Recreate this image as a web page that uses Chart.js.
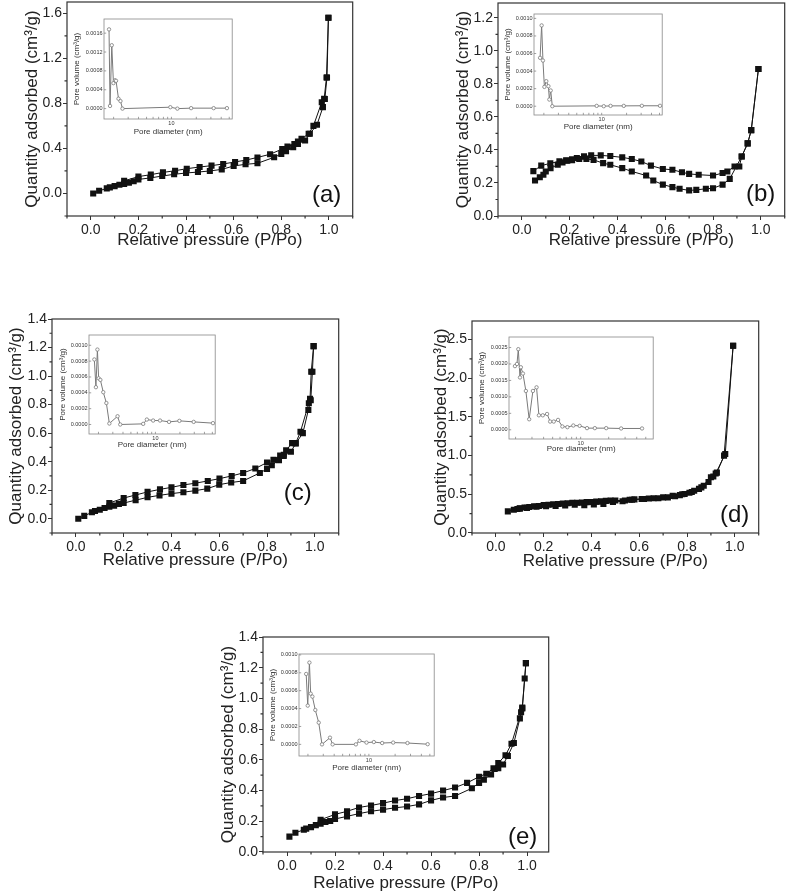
<!DOCTYPE html>
<html>
<head>
<meta charset="utf-8">
<script src="https://cdn.jsdelivr.net/npm/chart.js@4.4.1/dist/chart.umd.min.js"></script>
<style>
  body { margin: 0; background: #fff; overflow: hidden; }
  #page { position: relative; width: 787px; height: 893px; overflow: hidden; }
</style>
</head>
<body>
<div id="page"></div>
<script>
// ---- tick labels ----
const pressureTicks = [0, 0.2, 0.4, 0.6, 0.8, 1.0];
const pressureMinor = [-0.1, 0.1, 0.3, 0.5, 0.7, 0.9, 1.1];
const poreDiamTicks = [2, 3, 4, 5, 6, 7, 8, 9, 10, 20, 30, 40, 50];

const yTicksA = [0, 0.4, 0.8, 1.2, 1.6];
const yMinorA = [-0.2, 0.2, 0.6, 1.0, 1.4];
const yTicksB = [0, 0.2, 0.4, 0.6, 0.8, 1.0, 1.2];
const yMinorB = [0.1, 0.3, 0.5, 0.7, 0.9, 1.1];
const yTicksC = [0, 0.2, 0.4, 0.6, 0.8, 1.0, 1.2, 1.4];
const yMinorC = [-0.1, 0.1, 0.3, 0.5, 0.7, 0.9, 1.1, 1.3];
const yTicksD = [0, 0.5, 1.0, 1.5, 2.0, 2.5];
const yMinorD = [0.25, 0.75, 1.25, 1.75, 2.25];
const yTicksE = [0, 0.2, 0.4, 0.6, 0.8, 1.0, 1.2, 1.4];
const yMinorE = [0.1, 0.3, 0.5, 0.7, 0.9, 1.1, 1.3];

const poreTicksA = [0, 0.0004, 0.0008, 0.0012, 0.0016];
const poreTicksB = [0, 0.0002, 0.0004, 0.0006, 0.0008, 0.0010];
const poreTicksD = [0, 0.0005, 0.0010, 0.0015, 0.0020, 0.0025];

// ---- (a) ----
const aAdsP = [0.01, 0.035, 0.067, 0.08, 0.10, 0.12, 0.14, 0.16, 0.18, 0.20, 0.25, 0.30, 0.35, 0.40, 0.45, 0.50, 0.55, 0.60, 0.65, 0.70, 0.77, 0.80, 0.82, 0.85, 0.87, 0.90, 0.92, 0.95, 0.975, 0.983, 0.992, 0.998];
const aAdsQ = [0.0, 0.024, 0.045, 0.054, 0.065, 0.078, 0.085, 0.095, 0.108, 0.125, 0.138, 0.155, 0.17, 0.182, 0.19, 0.2, 0.214, 0.244, 0.259, 0.268, 0.321, 0.351, 0.375, 0.41, 0.44, 0.47, 0.53, 0.61, 0.767, 0.839, 1.03, 1.56];
const aDesP = [0.998, 0.99, 0.98, 0.97, 0.935, 0.915, 0.885, 0.87, 0.855, 0.826, 0.804, 0.753, 0.70, 0.653, 0.606, 0.556, 0.507, 0.457, 0.403, 0.354, 0.303, 0.252, 0.20, 0.14];
const aDesQ = [1.56, 1.03, 0.84, 0.81, 0.60, 0.53, 0.485, 0.46, 0.44, 0.416, 0.395, 0.348, 0.32, 0.297, 0.28, 0.262, 0.247, 0.235, 0.22, 0.202, 0.187, 0.167, 0.15, 0.112];
const aPoreD = [1.76, 1.81, 1.90, 1.99, 2.08, 2.14, 2.29, 2.42, 2.56, 9.7, 11.8, 17.3, 32.4, 46.9];
const aPoreV = [0.00168, 0.000057, 0.001344, 0.00054, 0.0006, 0.00059, 0.00021, 0.00016, 0.0, 0.00003, 0.0, 0.00001, 0.00001, 0.00001];

// ---- (b) ----
const bAdsP = [0.055, 0.075, 0.09, 0.10, 0.12, 0.15, 0.17, 0.19, 0.21, 0.24, 0.27, 0.30, 0.34, 0.37, 0.42, 0.46, 0.52, 0.55, 0.59, 0.63, 0.66, 0.70, 0.73, 0.77, 0.80, 0.84, 0.87, 0.92, 0.945, 0.96, 0.99];
const bAdsQ = [0.215, 0.235, 0.25, 0.27, 0.29, 0.31, 0.325, 0.335, 0.338, 0.345, 0.345, 0.34, 0.32, 0.31, 0.29, 0.27, 0.245, 0.215, 0.19, 0.175, 0.165, 0.155, 0.158, 0.165, 0.168, 0.19, 0.225, 0.36, 0.44, 0.52, 0.89];
const bDesP = [0.99, 0.96, 0.945, 0.92, 0.91, 0.89, 0.86, 0.84, 0.80, 0.74, 0.70, 0.67, 0.63, 0.59, 0.54, 0.50, 0.46, 0.42, 0.37, 0.33, 0.29, 0.26, 0.23, 0.21, 0.185, 0.157, 0.119, 0.081, 0.048];
const bDesQ = [0.89, 0.52, 0.44, 0.36, 0.30, 0.30, 0.27, 0.26, 0.245, 0.25, 0.255, 0.265, 0.28, 0.285, 0.305, 0.33, 0.345, 0.355, 0.363, 0.367, 0.367, 0.361, 0.351, 0.343, 0.337, 0.331, 0.319, 0.305, 0.272];
const bPoreD = [1.80, 1.88, 1.95, 2.03, 2.14, 2.27, 2.33, 2.42, 2.53, 8.7, 10.6, 12.8, 18.5, 30.6, 50.7];
const bPoreV = [0.000551, 0.00092, 0.00052, 0.00022, 0.000285, 0.000228, 0.000076, 0.000179, 0.0, 0.000004, 0.0, 0.000004, 0.000004, 0.000005, 0.000005];

// ---- (c) ----
const cAdsP = [0.01, 0.035, 0.067, 0.08, 0.10, 0.12, 0.14, 0.16, 0.18, 0.20, 0.25, 0.30, 0.35, 0.40, 0.45, 0.50, 0.55, 0.60, 0.65, 0.70, 0.77, 0.80, 0.82, 0.85, 0.87, 0.90, 0.92, 0.95, 0.973, 0.983, 0.99, 0.995];
const cAdsQ = [0.0, 0.02, 0.045, 0.054, 0.063, 0.075, 0.085, 0.092, 0.104, 0.11, 0.13, 0.15, 0.164, 0.176, 0.186, 0.197, 0.211, 0.239, 0.254, 0.265, 0.321, 0.349, 0.375, 0.41, 0.44, 0.47, 0.527, 0.60, 0.762, 0.83, 1.03, 1.21];
const cDesP = [0.995, 0.985, 0.98, 0.975, 0.94, 0.92, 0.905, 0.88, 0.87, 0.855, 0.827, 0.80, 0.751, 0.70, 0.652, 0.601, 0.552, 0.50, 0.45, 0.40, 0.352, 0.30, 0.249, 0.20, 0.14];
const cDesQ = [1.21, 1.03, 0.84, 0.81, 0.61, 0.53, 0.53, 0.48, 0.448, 0.443, 0.413, 0.394, 0.352, 0.321, 0.30, 0.281, 0.265, 0.249, 0.237, 0.22, 0.206, 0.188, 0.166, 0.145, 0.11];
const cPoreD = [1.78, 1.86, 1.94, 2.01, 2.11, 2.29, 2.50, 2.72, 3.43, 3.70, 7.08, 7.85, 9.38, 11.4, 14.7, 19.7, 29.5, 50.9];
const cPoreV = [0.000821, 0.000471, 0.000946, 0.000583, 0.000563, 0.000408, 0.000271, 0.0000125, 0.000104, 0.0, 0.000008, 0.0000625, 0.00005, 0.00005, 0.000033, 0.000046, 0.000033, 0.000017];

// ---- (d) ----
const dAdsP = [0.05, 0.075, 0.09, 0.10, 0.12, 0.14, 0.16, 0.18, 0.20, 0.22, 0.24, 0.26, 0.28, 0.30, 0.32, 0.34, 0.36, 0.38, 0.40, 0.42, 0.44, 0.46, 0.48, 0.50, 0.54, 0.56, 0.58, 0.62, 0.64, 0.68, 0.72, 0.75, 0.77, 0.79, 0.81, 0.83, 0.85, 0.87, 0.89, 0.91, 0.925, 0.955, 0.993];
const dAdsQ = [0.28, 0.30, 0.31, 0.32, 0.33, 0.335, 0.345, 0.35, 0.36, 0.365, 0.37, 0.375, 0.38, 0.385, 0.39, 0.39, 0.395, 0.40, 0.40, 0.405, 0.41, 0.415, 0.42, 0.42, 0.42, 0.43, 0.435, 0.44, 0.445, 0.45, 0.46, 0.475, 0.49, 0.505, 0.52, 0.545, 0.57, 0.61, 0.66, 0.73, 0.78, 1.0, 2.42];
const dDesP = [0.993, 0.96, 0.92, 0.90, 0.86, 0.82, 0.78, 0.74, 0.70, 0.66, 0.61, 0.57, 0.53, 0.49, 0.45, 0.41, 0.37, 0.33, 0.29, 0.25, 0.21, 0.17, 0.13, 0.10];
const dDesQ = [2.42, 1.02, 0.77, 0.72, 0.59, 0.53, 0.50, 0.48, 0.46, 0.45, 0.44, 0.43, 0.41, 0.40, 0.375, 0.37, 0.36, 0.365, 0.355, 0.35, 0.345, 0.34, 0.325, 0.315];
const dPoreD = [1.97, 2.07, 2.14, 2.23, 2.28, 2.40, 2.58, 2.80, 3.07, 3.36, 3.56, 3.92, 4.36, 4.70, 5.14, 5.72, 6.36, 7.20, 8.34, 9.75, 11.7, 14.2, 18.8, 27.2, 45.6];
const dPoreV = [0.001935, 0.002, 0.00245, 0.00159, 0.0019, 0.00171, 0.00118, 0.00032, 0.00118, 0.00129, 0.00044, 0.00044, 0.00048, 0.00025, 0.00025, 0.0003, 0.0001, 0.00008, 0.00013, 0.00012, 0.00005, 0.00005, 0.00005, 0.00004, 0.00004];

// ---- (e) ----
const eAdsP = [0.01, 0.035, 0.07, 0.08, 0.10, 0.12, 0.14, 0.16, 0.18, 0.20, 0.25, 0.30, 0.35, 0.40, 0.45, 0.50, 0.55, 0.60, 0.65, 0.70, 0.77, 0.80, 0.82, 0.85, 0.865, 0.88, 0.90, 0.92, 0.945, 0.97, 0.98, 0.99, 0.995];
const eAdsQ = [0.10, 0.125, 0.145, 0.152, 0.162, 0.175, 0.185, 0.195, 0.202, 0.215, 0.232, 0.25, 0.265, 0.276, 0.288, 0.296, 0.31, 0.336, 0.355, 0.365, 0.415, 0.45, 0.47, 0.505, 0.54, 0.545, 0.57, 0.625, 0.71, 0.87, 0.935, 1.13, 1.23];
const eDesP = [0.995, 0.98, 0.975, 0.935, 0.91, 0.88, 0.86, 0.83, 0.80, 0.75, 0.70, 0.65, 0.60, 0.55, 0.50, 0.45, 0.40, 0.35, 0.30, 0.25, 0.20, 0.14];
const eDesQ = [1.23, 0.94, 0.91, 0.705, 0.63, 0.58, 0.545, 0.51, 0.49, 0.45, 0.42, 0.40, 0.38, 0.365, 0.347, 0.335, 0.318, 0.303, 0.29, 0.265, 0.245, 0.21];
const ePoreD = [1.91, 1.99, 2.08, 2.15, 2.25, 2.43, 2.66, 2.90, 3.58, 3.84, 7.1, 7.8, 9.4, 11.4, 14.2, 19.0, 27.7, 47.2];
const ePoreV = [0.000787, 0.000433, 0.000914, 0.000567, 0.000534, 0.000384, 0.000243, 0.0, 0.000075, 0.0, 0.0, 0.00004, 0.00002, 0.000026, 0.000015, 0.00002, 0.000015, 0.000002];

const FONT = '"Liberation Sans", Arial, sans-serif';
const page = document.getElementById('page');

function pts(xs, ys) {
  return xs.map((x, i) => ({ x: x, y: ys[i] }));
}

function setTicks(list) {
  return scale => { scale.ticks = list.map(v => ({ value: v })); };
}

function addCanvas(left, top, w, h) {
  const c = document.createElement('canvas');
  c.width = w;
  c.height = h;
  c.style.cssText = `position:absolute;left:${left}px;top:${top}px;width:${w}px;height:${h}px`;
  page.appendChild(c);
  return c.getContext('2d');
}

// box around the plot, extra tick marks and the panel letter
const framePlugin = {
  id: 'frame',
  afterDraw(chart, args, o) {
    const { ctx, chartArea: a, scales } = chart;
    ctx.save();
    ctx.strokeStyle = o.color;
    ctx.lineWidth = o.width;
    ctx.strokeRect(a.left, a.top, a.right - a.left, a.bottom - a.top);
    const dir = o.inward ? -1 : 1;
    ctx.beginPath();
    (o.xMarks || []).forEach(v => {
      if (v < scales.x.min || v > scales.x.max) return;
      const p = scales.x.getPixelForValue(v);
      ctx.moveTo(p, a.bottom);
      ctx.lineTo(p, a.bottom + dir * o.len);
    });
    (o.yMarks || []).forEach(v => {
      if (v < scales.y.min || v > scales.y.max) return;
      const p = scales.y.getPixelForValue(v);
      ctx.moveTo(a.left, p);
      ctx.lineTo(a.left - dir * o.len, p);
    });
    ctx.stroke();
    if (o.label) {
      ctx.fillStyle = '#111';
      ctx.font = '24px ' + FONT;
      ctx.textAlign = 'center';
      ctx.textBaseline = 'middle';
      ctx.fillText(o.label, a.right + o.dx, a.bottom + o.dy);
    }
    ctx.restore();
  }
};

function isotherm(b, s) {
  const fs = 17, lh = fs * 1.2;
  const left = Math.round(b.yTitleX - 14), top = Math.round(b.T - 14);
  const W = Math.round(b.R + 4) - left, H = Math.round(b.xTitleY + 14) - top;
  const padL = b.yTitleX - left - lh / 2;
  const padB = H - (b.xTitleY - top + lh / 2);
  const branch = (xs, ys) => ({
    data: pts(xs, ys),
    showLine: true,
    borderColor: '#111',
    borderWidth: 1,
    pointStyle: 'rect',
    pointRadius: 4.3,
    pointBackgroundColor: '#111',
    pointBorderWidth: 0
  });
  const tickFont = { size: 14, family: FONT };
  const titleFont = { size: fs, family: FONT };
  new Chart(addCanvas(left, top, W, H), {
    type: 'scatter',
    data: { datasets: [branch(s.adsP, s.adsQ), branch(s.desP, s.desQ)] },
    options: {
      responsive: false,
      animation: false,
      events: [],
      layout: { padding: { left: padL, top: b.T - top, right: left + W - b.R, bottom: padB } },
      scales: {
        x: {
          type: 'linear', min: s.xMin, max: s.xMax,
          afterBuildTicks: setTicks(pressureTicks),
          afterFit: sc => { sc.height = b.xTitleY + lh / 2 - b.B; },
          ticks: { font: tickFont, color: '#222', padding: 2, maxRotation: 0, autoSkip: false, callback: v => v.toFixed(1) },
          grid: { drawOnChartArea: false, tickLength: 4, color: '#333' },
          border: { display: false },
          title: { display: true, text: 'Relative pressure (P/Po)', font: titleFont, color: '#222', padding: 0 }
        },
        y: {
          type: 'linear', min: s.yMin, max: s.yMax,
          afterBuildTicks: setTicks(s.yTicks),
          afterFit: sc => { sc.width = b.L - left - padL; },
          ticks: { font: tickFont, color: '#222', padding: 1, autoSkip: false, callback: v => v.toFixed(1) },
          grid: { drawOnChartArea: false, tickLength: 4, color: '#333' },
          border: { display: false },
          title: { display: true, text: 'Quantity adsorbed (cm³/g)', font: titleFont, color: '#222', padding: 0 }
        }
      },
      plugins: {
        legend: { display: false },
        tooltip: { enabled: false },
        frame: { color: '#333', width: 1.2, len: 2.5, inward: false, xMarks: pressureMinor, yMarks: s.yMinor, label: s.label, dx: b.dx, dy: b.dy }
      }
    },
    plugins: [framePlugin]
  });
}

function poreInset(b, s) {
  const fs = 8, lh = fs * 1.2;
  const left = Math.round(b.yTitleX - 6), top = Math.round(b.T - 6);
  const W = Math.round(b.R + 4) - left, H = Math.round(b.xTitleY + 6) - top;
  const padL = b.yTitleX - left - lh / 2;
  const padB = H - (b.xTitleY - top + lh / 2);
  const tickFont = { size: 5.5, family: FONT };
  const titleFont = { size: fs, family: FONT };
  new Chart(addCanvas(left, top, W, H), {
    type: 'scatter',
    data: {
      datasets: [{
        data: pts(s.d, s.v),
        showLine: true,
        borderColor: '#7a7a7a',
        borderWidth: 1,
        pointStyle: 'circle',
        pointRadius: 1.7,
        pointBackgroundColor: '#fff',
        pointBorderColor: '#7a7a7a',
        pointBorderWidth: 0.8
      }]
    },
    options: {
      responsive: false,
      animation: false,
      events: [],
      layout: { padding: { left: padL, top: b.T - top, right: left + W - b.R, bottom: padB } },
      scales: {
        x: {
          type: 'logarithmic', min: s.xMin, max: s.xMax,
          afterBuildTicks: setTicks(poreDiamTicks),
          afterFit: sc => { sc.height = b.xTitleY + lh / 2 - b.B; },
          ticks: { font: tickFont, color: '#333', padding: 1, maxRotation: 0, autoSkip: false, callback: v => (v === 10 ? '10' : '') },
          grid: { drawOnChartArea: false, drawTicks: false },
          border: { display: false },
          title: { display: true, text: 'Pore diameter (nm)', font: titleFont, color: '#333', padding: 0 }
        },
        y: {
          type: 'linear', min: s.yMin, max: s.yMax,
          afterBuildTicks: setTicks(s.yTicks),
          afterFit: sc => { sc.width = b.L - left - padL; },
          ticks: { font: tickFont, color: '#333', padding: 1.5, autoSkip: false, callback: v => v.toFixed(4) },
          grid: { drawOnChartArea: false, drawTicks: false },
          border: { display: false },
          title: { display: true, text: 'Pore volume (cm³/g)', font: titleFont, color: '#333', padding: 0 }
        }
      },
      plugins: {
        legend: { display: false },
        tooltip: { enabled: false },
        frame: { color: '#888', width: 0.8, len: 2.2, inward: true, xMarks: poreDiamTicks, yMarks: s.yTicks }
      }
    },
    plugins: [framePlugin]
  });
}

// main isotherm panels
isotherm({ L: 67, R: 353, T: 2, B: 216, yTitleX: 32, xTitleY: 240, dx: -26, dy: -21 },
  { adsP: aAdsP, adsQ: aAdsQ, desP: aDesP, desQ: aDesQ, xMin: -0.1, xMax: 1.1, yMin: -0.2, yMax: 1.7, yTicks: yTicksA, yMinor: yMinorA, label: '(a)' });
isotherm({ L: 498, R: 785, T: 3, B: 216, yTitleX: 463, xTitleY: 240, dx: -24, dy: -22 },
  { adsP: bAdsP, adsQ: bAdsQ, desP: bDesP, desQ: bDesQ, xMin: -0.1, xMax: 1.1, yMin: 0, yMax: 1.29, yTicks: yTicksB, yMinor: yMinorB, label: '(b)' });
isotherm({ L: 52, R: 339, T: 319, B: 533, yTitleX: 16, xTitleY: 560, dx: -41, dy: -40 },
  { adsP: cAdsP, adsQ: cAdsQ, desP: cDesP, desQ: cDesQ, xMin: -0.1, xMax: 1.1, yMin: -0.1, yMax: 1.4, yTicks: yTicksC, yMinor: yMinorC, label: '(c)' });
isotherm({ L: 472, R: 759, T: 321, B: 533, yTitleX: 441, xTitleY: 561, dx: -24, dy: -18 },
  { adsP: dAdsP, adsQ: dAdsQ, desP: dDesP, desQ: dDesQ, xMin: -0.1, xMax: 1.1, yMin: 0, yMax: 2.74, yTicks: yTicksD, yMinor: yMinorD, label: '(d)' });
isotherm({ L: 263, R: 549, T: 637, B: 852, yTitleX: 228, xTitleY: 883, dx: -26, dy: -15 },
  { adsP: eAdsP, adsQ: eAdsQ, desP: eDesP, desQ: eDesQ, xMin: -0.1, xMax: 1.09, yMin: 0, yMax: 1.4, yTicks: yTicksE, yMinor: yMinorE, label: '(e)' });

// pore size distribution insets
poreInset({ L: 104, R: 233, T: 19, B: 119, yTitleX: 77, xTitleY: 132 },
  { d: aPoreD, v: aPoreV, xMin: 1.53, xMax: 54.3, yMin: -0.00022, yMax: 0.0019, yTicks: poreTicksA });
poreInset({ L: 534, R: 663, T: 14, B: 115, yTitleX: 508, xTitleY: 127 },
  { d: bPoreD, v: bPoreV, xMin: 1.52, xMax: 53.9, yMin: -0.0001, yMax: 0.00105, yTicks: poreTicksB });
poreInset({ L: 89, R: 216, T: 335, B: 434, yTitleX: 62.5, xTitleY: 445 },
  { d: cPoreD, v: cPoreV, xMin: 1.53, xMax: 54.2, yMin: -0.00012, yMax: 0.00113, yTicks: poreTicksB });
poreInset({ L: 509, R: 654, T: 337, B: 439, yTitleX: 482, xTitleY: 449 },
  { d: dPoreD, v: dPoreV, xMin: 1.70, xMax: 60.1, yMin: -0.00028, yMax: 0.00282, yTicks: poreTicksD });
poreInset({ L: 299, R: 435, T: 654, B: 756, yTitleX: 273, xTitleY: 768 },
  { d: ePoreD, v: ePoreV, xMin: 1.58, xMax: 56.1, yMin: -0.00013, yMax: 0.00101, yTicks: poreTicksB });
</script>
</body>
</html>
